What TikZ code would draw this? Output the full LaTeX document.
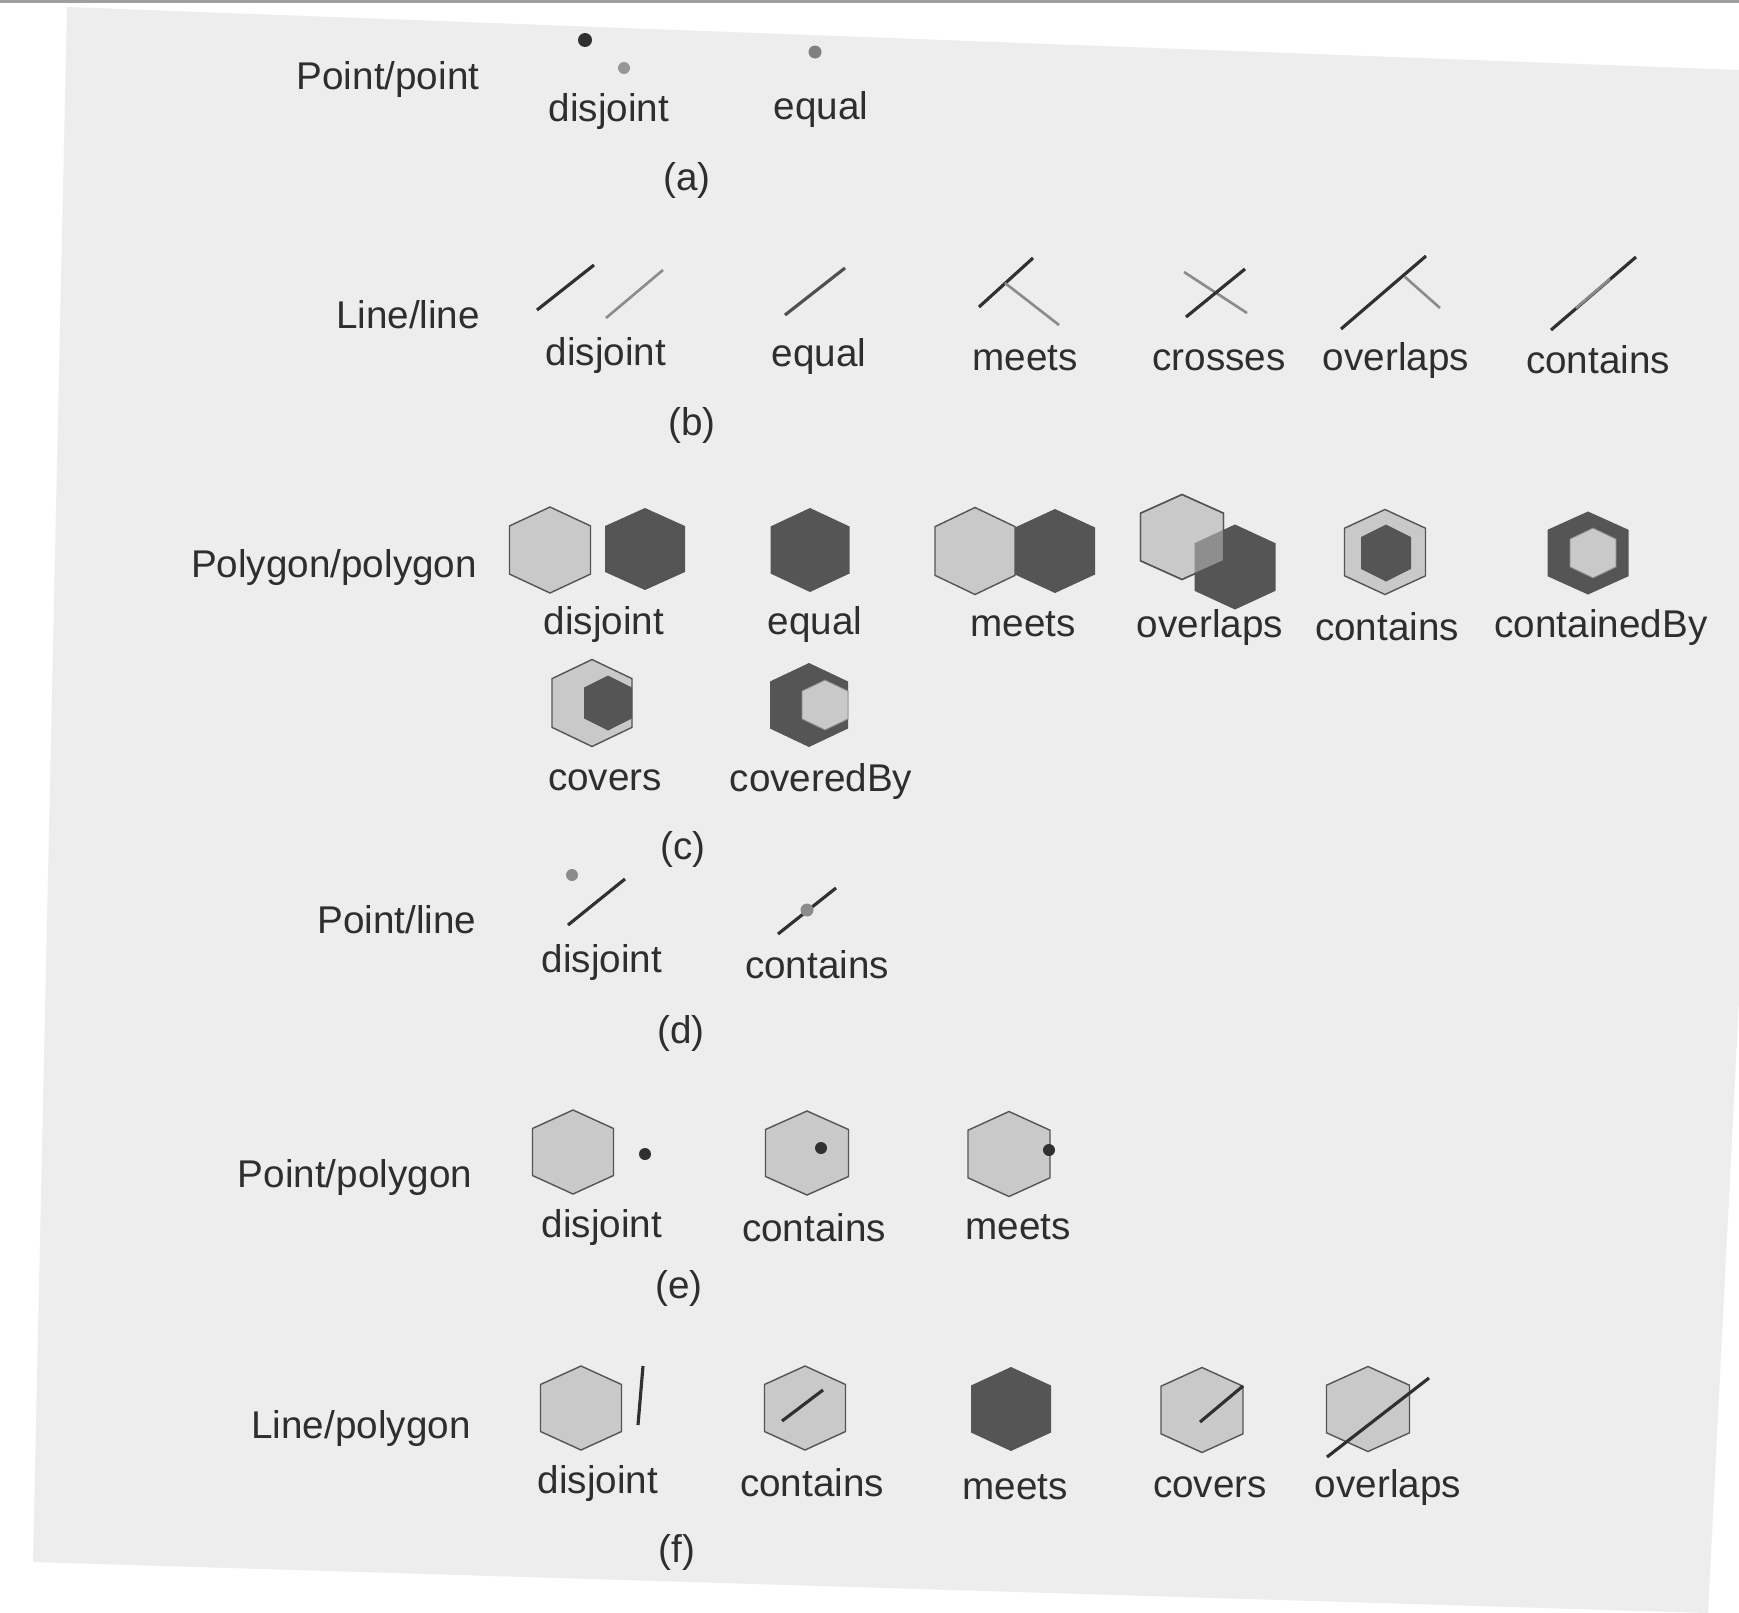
\documentclass[tikz,border=0pt]{standalone}
\usepackage{fontspec}
\setmainfont{Liberation Sans}
\definecolor{page}{HTML}{EDEDED}
\definecolor{ink}{HTML}{2E2E2E}
\definecolor{lightpoly}{HTML}{C9C9C9}
\definecolor{darkpoly}{HTML}{555555}
\definecolor{midpoly}{HTML}{8E8E8E}
\definecolor{edgecol}{HTML}{555555}
\definecolor{darkline}{HTML}{303030}
\definecolor{grayline}{HTML}{8C8C8C}
\definecolor{medline}{HTML}{505050}
\newcommand\hexagonat[5]{\path[#1] (#2,#3-#5/2) -- (#2+#4/2,#3-0.28*#5) -- (#2+#4/2,#3+0.28*#5) -- (#2,#3+#5/2) -- (#2-#4/2,#3+0.28*#5) -- (#2-#4/2,#3-0.28*#5) -- cycle;}
\begin{document}
\begin{tikzpicture}[x=0.02cm,y=-0.02cm,
  lbl/.style={font=\fontsize{22}{26}\selectfont, text=ink, inner sep=0pt},
  lighthex/.style={fill=lightpoly, draw=edgecol, line width=0.8pt, line join=miter},
  darkhex/.style={fill=darkpoly},
  dl/.style={draw=darkline, line width=1.8pt},
  gl/.style={draw=grayline, line width=1.5pt},
  dotr/.style={radius=0.14cm}]
\useasboundingbox (0,0) rectangle (1739,1613);
% page
\fill[white] (0,0) rectangle (1739,1613);
\fill[page] (67,7) -- (1739,70) -- (1739,1000) -- (1708,1613) -- (33,1562) -- cycle;
\draw[gray!75, line width=0.06cm] (0,1.5) -- (1739,1.5);

% (a) Point/point
\node[lbl] (pp) at (388,80) {Point/point};
\fill[darkline] (585,40) circle[dotr];
\fill[grayline!90] (624,68) circle[radius=0.12cm];
\node[lbl] (pp-dis) at (609,112) {disjoint};
\fill[gray] (815,52) circle[radius=0.13cm];
\node[lbl] (pp-eq) at (821,110) {equal};
\node[lbl] (cap-a) at (687,180) {(a)};

% (b) Line/line
\node[lbl] (ll) at (408,315) {Line/line};
\draw[dl] (537,310) -- (594,265);
\draw[gl] (606,318) -- (663,270);
\node[lbl] (ll-dis) at (606,356) {disjoint};
\draw[dl, draw=medline] (785,315) -- (845,268);
\node[lbl] (ll-eq) at (819,357) {equal};
\draw[dl] (979,307) -- (1033,258);
\draw[gl] (1005,283) -- (1059,325);
\node[lbl] (ll-meet) at (1025,358) {meets};
\draw[gl] (1184,272) -- (1247,313);
\draw[dl] (1186,317) -- (1245,269);
\node[lbl] (ll-cross) at (1219,360) {crosses};
\draw[dl] (1341,329) -- (1426,256);
\draw[gl] (1405,277) -- (1440,308);
\node[lbl] (ll-over) at (1396,361) {overlaps};
\draw[dl] (1551,330) -- (1636,257);
\draw[gl] (1576,308) -- (1610,279);
\node[lbl] (ll-cont) at (1598,360) {contains};
\node[lbl] (cap-b) at (692,425) {(b)};

% (c) Polygon/polygon
\node[lbl] (pg) at (334,567) {Polygon/polygon};
\hexagonat{lighthex}{550}{550}{81}{86}
\hexagonat{darkhex}{645}{549}{80}{82}
\node[lbl] (pg-dis) at (604,624) {disjoint};
\hexagonat{darkhex}{810}{550}{79}{84}
\node[lbl] (pg-eq) at (815,624) {equal};
\hexagonat{lighthex}{975}{551}{80}{87}
\hexagonat{darkhex}{1055}{551}{80}{84}
\node[lbl] (pg-meet) at (1023,624) {meets};
\hexagonat{darkhex}{1235}{567}{81}{85}
\hexagonat{lighthex}{1182}{537}{83}{85}
\begin{scope}
\hexagonat{clip}{1182}{537}{83}{85}
\hexagonat{fill=midpoly}{1235}{567}{81}{85}
\end{scope}
\hexagonat{draw=edgecol, line width=0.8pt}{1182}{537}{83}{85}
\node[lbl] (pg-over) at (1210,627) {overlaps};
\hexagonat{lighthex}{1385}{552}{81}{85}
\hexagonat{darkhex}{1386}{553}{50}{57}
\node[lbl] (pg-cont) at (1387,627) {contains};
\hexagonat{darkhex}{1588}{553}{81}{83}
\hexagonat{fill=lightpoly, draw=edgecol!70, line width=0.5pt}{1593}{553}{46}{50}
\node[lbl] (pg-cby) at (1601,627) {containedBy};
\hexagonat{lighthex}{592}{703}{80}{87}
\hexagonat{darkhex}{608}{703}{48}{55}
\node[lbl] (pg-cov) at (605,780) {covers};
\hexagonat{darkhex}{809}{705}{78}{84}
\hexagonat{fill=lightpoly, draw=edgecol!70, line width=0.5pt}{825}{705}{46}{50}
\node[lbl] (pg-covby) at (821,781) {coveredBy};
\node[lbl] (cap-c) at (683,849) {(c)};

% (d) Point/line
\node[lbl] (pl) at (397,920) {Point/line};
\fill[grayline] (572,875) circle[radius=0.12cm];
\draw[dl] (568,925) -- (625,879);
\node[lbl] (pl-dis) at (602,962) {disjoint};
\draw[dl] (778,934) -- (836,888);
\fill[grayline] (807,910) circle[radius=0.13cm];
\node[lbl] (pl-cont) at (817,965) {contains};
\node[lbl] (cap-d) at (681,1033) {(d)};

% (e) Point/polygon
\node[lbl] (ppg) at (355,1177) {Point/polygon};
\hexagonat{lighthex}{573}{1152}{81}{84}
\fill[darkline] (645,1154) circle[radius=0.12cm];
\node[lbl] (ppg-dis) at (602,1227) {disjoint};
\hexagonat{lighthex}{807}{1153}{83}{84}
\fill[darkline] (821,1148) circle[radius=0.12cm];
\node[lbl] (ppg-cont) at (814,1228) {contains};
\hexagonat{lighthex}{1009}{1154}{82}{85}
\fill[darkline] (1049,1150) circle[radius=0.12cm];
\node[lbl] (ppg-meet) at (1018,1227) {meets};
\node[lbl] (cap-e) at (679,1288) {(e)};

% (f) Line/polygon
\node[lbl] (lpg) at (361,1428) {Line/polygon};
\hexagonat{lighthex}{581}{1408}{81}{84}
\draw[dl] (643,1366) -- (638,1425);
\node[lbl] (lpg-dis) at (598,1483) {disjoint};
\hexagonat{lighthex}{805}{1408}{81}{84}
\draw[dl] (782,1421) -- (823,1390);
\node[lbl] (lpg-cont) at (812,1483) {contains};
\hexagonat{darkhex}{1011}{1409}{80}{84}
\node[lbl] (lpg-meet) at (1015,1487) {meets};
\hexagonat{lighthex}{1202}{1410}{82}{85}
\draw[dl] (1200,1422) -- (1243,1386);
\node[lbl] (lpg-cov) at (1210,1487) {covers};
\hexagonat{lighthex}{1368}{1409}{83}{85}
\draw[dl] (1327,1457) -- (1429,1378);
\node[lbl] (lpg-over) at (1388,1487) {overlaps};
\node[lbl] (cap-f) at (677,1552) {(f)};
\end{tikzpicture}
\end{document}
